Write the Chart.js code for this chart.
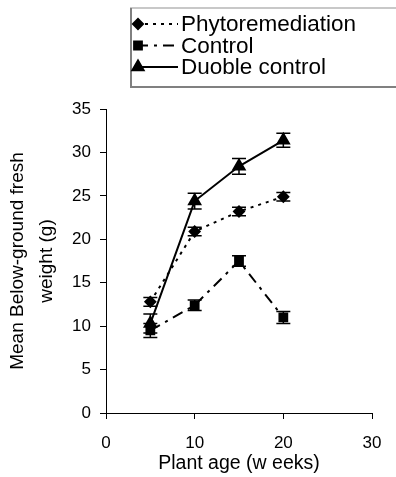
<!DOCTYPE html>
<html>
<head>
<meta charset="utf-8">
<script src="https://cdn.jsdelivr.net/npm/chart.js@4.4.1/dist/chart.umd.min.js"></script>
<style>
  html, body { margin: 0; padding: 0; background: #fff; }
  #wrap { width: 396px; height: 477px; position: relative; }
</style>
</head>
<body>
<div id="wrap"><canvas id="myChart"></canvas></div>
<script>
// ***** DATA *****
let ageWeeks = [5, 10, 15, 20];
let seriesNames = ['Phytoremediation', 'Control', 'Duoble control'];
let phytoValues = [12.8, 20.9, 23.2, 24.9];
let phytoErrors = [0.5, 0.5, 0.5, 0.5];
let controlValues = [9.5, 12.4, 17.5, 11.0];
let controlErrors = [0.8, 0.6, 0.6, 0.7];
let doubleValues = [10.3, 24.4, 28.4, 31.4];
let doubleErrors = [1.1, 0.9, 0.9, 0.8];
let xTicks = [0, 10, 20, 30];
let yTicks = [0, 5, 10, 15, 20, 25, 30, 35];

const FONT = 'Liberation Sans, Arial, sans-serif';
const ctx = document.getElementById('myChart').getContext('2d');

function toPoints(values){
  return values.map((v, i) => ({ x: ageWeeks[i], y: v }));
}

// ***** PLUGINS *****
// error bars with caps, drawn through the scales
const errorBars = {
  id: 'errorBars',
  afterDatasetsDraw(chart){
    const c = chart.ctx;
    const xs = chart.scales.x, ys = chart.scales.y;
    c.save();
    c.strokeStyle = '#000';
    c.lineWidth = 1.5;
    chart.data.datasets.forEach(ds => {
      ds.data.forEach((p, i) => {
        const e = ds.errors[i];
        const px = xs.getPixelForValue(p.x);
        const top = ys.getPixelForValue(p.y + e);
        const bot = ys.getPixelForValue(p.y - e);
        c.beginPath();
        c.moveTo(px, top); c.lineTo(px, bot);
        c.moveTo(px - 7, top); c.lineTo(px + 7, top);
        c.moveTo(px - 7, bot); c.lineTo(px + 7, bot);
        c.stroke();
      });
    });
    c.restore();
  }
};

// legend box at the top, drawn by hand to match the original
const boxLegend = {
  id: 'boxLegend',
  afterDraw(chart){
    const c = chart.ctx;
    c.save();
    // box: light top edge, darker left and bottom edges, open to the right
    c.lineWidth = 2;
    c.strokeStyle = '#c8c8c8';
    c.beginPath(); c.moveTo(130, 8); c.lineTo(396, 8); c.stroke();
    c.strokeStyle = '#808080';
    c.beginPath(); c.moveTo(131, 8); c.lineTo(131, 87); c.lineTo(396, 87); c.stroke();

    c.font = '22.5px ' + FONT;
    c.textBaseline = 'alphabetic';
    c.fillStyle = '#000';
    c.strokeStyle = '#000';
    chart.data.datasets.forEach((ds, i) => {
      const base = 31 + i * 21.5;
      const y = base - 7;
      c.beginPath();
      c.lineWidth = 2;
      c.setLineDash(ds.borderDash || []);
      c.moveTo(137, y); c.lineTo(178, y);
      c.stroke();
      c.setLineDash([]);
      Chart.helpers.drawPoint(c, { pointStyle: ds.pointStyle, radius: ds.pointRadius, rotation: 0, borderWidth: 1 }, 138, y);
      c.fillText(ds.label, 181, base);
    });
    c.restore();
  }
};

// ***** CHART *****
let chartObj = {
  type: 'line',
  data: {
    datasets: [
      {
        label: seriesNames[0],
        data: toPoints(phytoValues),
        errors: phytoErrors,
        borderColor: '#000',
        backgroundColor: '#000',
        borderWidth: 2,
        borderDash: [3, 5],
        pointStyle: 'rectRot',
        pointRadius: 5,
        pointHoverRadius: 5
      },
      {
        label: seriesNames[1],
        data: toPoints(controlValues),
        errors: controlErrors,
        borderColor: '#000',
        backgroundColor: '#000',
        borderWidth: 2,
        borderDash: [11, 6, 3, 6],
        pointStyle: 'rect',
        pointRadius: 5.5,
        pointHoverRadius: 5.5
      },
      {
        label: seriesNames[2],
        data: toPoints(doubleValues),
        errors: doubleErrors,
        borderColor: '#000',
        backgroundColor: '#000',
        borderWidth: 2,
        pointStyle: 'triangle',
        pointRadius: 6.5,
        pointHoverRadius: 6.5
      }
    ]
  },
  options: {
    responsive: true,
    maintainAspectRatio: false,
    animation: false,
    layout: { padding: { top: 109, right: 24, left: 0, bottom: 0 } },
    plugins: {
      legend: { display: false },
      tooltip: { enabled: false }
    },
    scales: {
      x: {
        type: 'linear',
        min: 0, max: 30,
        afterBuildTicks(scale){ scale.ticks = xTicks.map(v => ({ value: v })); },
        afterFit(scale){ scale.height = 64; },
        grid: { display: true, drawOnChartArea: false, drawTicks: true, tickLength: 6, color: '#000' },
        border: { display: true, color: '#000', width: 1 },
        ticks: { color: '#000', font: { family: FONT, size: 17 }, padding: 14, maxRotation: 0 },
        title: { display: true, text: 'Plant age (w eeks)', color: '#000', font: { family: FONT, size: 19.5 }, padding: { top: 0, bottom: 2 } }
      },
      y: {
        min: 0, max: 35,
        afterBuildTicks(scale){ scale.ticks = yTicks.map(v => ({ value: v })); },
        afterFit(scale){ scale.width = 106; },
        grid: { display: true, drawOnChartArea: false, drawTicks: true, tickLength: 6, color: '#000' },
        border: { display: true, color: '#000', width: 1 },
        ticks: { color: '#000', font: { family: FONT, size: 17 }, padding: 9 },
        title: { display: true, text: ['Mean Below-ground fresh', 'weight (g)'], color: '#000', font: { family: FONT, size: 19, lineHeight: 1.53 }, padding: { top: 3, bottom: 0 } }
      }
    }
  },
  plugins: [errorBars, boxLegend]
};

new Chart(ctx, chartObj);
</script>
</body>
</html>
